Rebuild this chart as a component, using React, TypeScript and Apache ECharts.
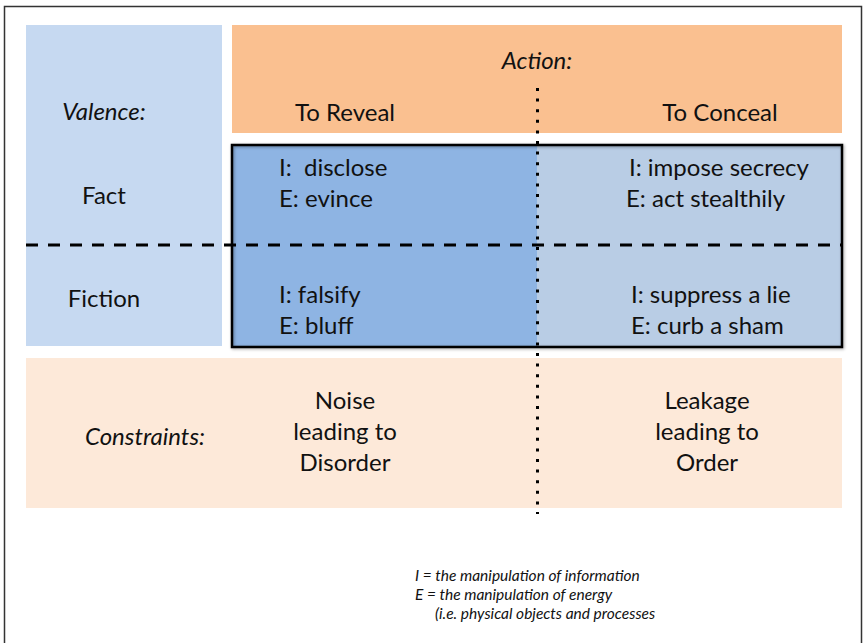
import React, { useEffect, useRef } from "react";
import * as echarts from "echarts";

const headerTitle = "Action:";
const columnLabels = ["To Reveal", "To Conceal"];
const rowTitle = "Valence:";
const rowLabels = ["Fact", "Fiction"];
const cellTexts = [
  [["I:  disclose", "E: evince"], ["I: impose secrecy", "E: act stealthily"]],
  [["I: falsify", "E: bluff"], ["I: suppress a lie", "E: curb a sham"]],
];
const constraintTitle = "Constraints:";
const constraintTexts = [
  ["Noise", "leading to", "Disorder"],
  ["Leakage", "leading to", "Order"],
];
const footnoteLines = [
  "I = the manipulation of information",
  "E = the manipulation of energy",
  "(i.e. physical objects and processes",
];

const FONT = "Lato, 'Liberation Sans', sans-serif";

export default function App() {
  const ref = useRef<HTMLDivElement>(null);
  useEffect(() => {
    if (!ref.current) return;
    const chart = echarts.init(ref.current, null, { renderer: "svg" });
    const txt = (
      text: string,
      x: number,
      y: number,
      opts: { size?: number; italic?: boolean; align?: string } = {}
    ) => ({
      type: "text",
      x,
      y,
      z: 10,
      style: {
        text,
        fill: "#111",
        fontSize: opts.size ?? 24,
        fontStyle: opts.italic ? "italic" : "normal",
        fontFamily: FONT,
        align: opts.align ?? "center",
        verticalAlign: "middle",
      },
    });

    const elements: any[] = [];
    elements.push({
      type: "rect",
      shape: { x: 4.5, y: 6.5, width: 857, height: 650 },
      style: { fill: "#fff", stroke: "#333", lineWidth: 1.5 },
      z: 0,
    });
    elements.push({
      type: "rect",
      shape: { x: 26, y: 25, width: 196, height: 321 },
      style: { fill: "#C6D9F1" },
      z: 1,
    });
    elements.push({
      type: "rect",
      shape: { x: 232, y: 25, width: 610, height: 108 },
      style: { fill: "#FAC090" },
      z: 1,
    });
    elements.push({
      type: "rect",
      shape: { x: 232, y: 145, width: 305, height: 202 },
      style: { fill: "#8EB4E3" },
      z: 1,
    });
    elements.push({
      type: "rect",
      shape: { x: 537, y: 145, width: 305, height: 202 },
      style: { fill: "#B9CDE5" },
      z: 1,
    });
    elements.push({
      type: "rect",
      shape: { x: 232, y: 145, width: 610, height: 202 },
      style: {
        fill: "none",
        stroke: "#000",
        lineWidth: 2.5,
        shadowBlur: 3,
        shadowColor: "rgba(0,0,0,0.35)",
        shadowOffsetX: 1,
        shadowOffsetY: 1,
      },
      z: 3,
    });
    elements.push({
      type: "rect",
      shape: { x: 26, y: 358, width: 816, height: 150 },
      style: { fill: "#FDE9D9" },
      z: 1,
    });
    elements.push({
      type: "line",
      shape: { x1: 26, y1: 245, x2: 842, y2: 245 },
      style: { stroke: "#000", lineWidth: 3, lineDash: [12, 10] },
      z: 4,
    });
    elements.push({
      type: "line",
      shape: { x1: 537.5, y1: 88, x2: 537.5, y2: 514 },
      style: { stroke: "#000", lineWidth: 3, lineDash: [3, 7.6] },
      z: 4,
    });

    elements.push(txt(headerTitle, 537, 59, { italic: true }));
    elements.push(txt(columnLabels[0], 345, 111));
    elements.push(txt(columnLabels[1], 720, 111));
    elements.push(txt(rowTitle, 104, 110, { italic: true }));
    elements.push(txt(rowLabels[0], 104, 194));
    elements.push(txt(rowLabels[1], 104, 297));

    const cellX = [279, 629];
    const rowY = [166, 293];
    cellTexts.forEach((row, r) => {
      row.forEach((lines, c) => {
        lines.forEach((line, i) => {
          const x =
            c === 1 && i === 1 && r === 0
              ? cellX[c] - 3
              : cellX[c] + (c === 1 && r === 1 ? 2 : 0);
          elements.push(txt(line, x, rowY[r] + i * 31, { align: "left" }));
        });
      });
    });

    elements.push(txt(constraintTitle, 145, 435, { italic: true }));
    const consX = [345, 707];
    constraintTexts.forEach((lines, c) => {
      lines.forEach((line, i) => {
        elements.push(txt(line, consX[c], 399 + i * 31));
      });
    });

    footnoteLines.forEach((line, i) => {
      elements.push(
        txt(line, i === 2 ? 435 : 415, 575 + i * 19, {
          italic: true,
          size: 15.5,
          align: "left",
        })
      );
    });

    chart.setOption({
      animation: false,
      graphic: { elements },
    });
    return () => chart.dispose();
  }, []);

  return (
    <div
      ref={ref}
      style={{ position: "fixed", left: 0, top: 0, width: 864, height: 643, background: "#fff" }}
    />
  );
}
